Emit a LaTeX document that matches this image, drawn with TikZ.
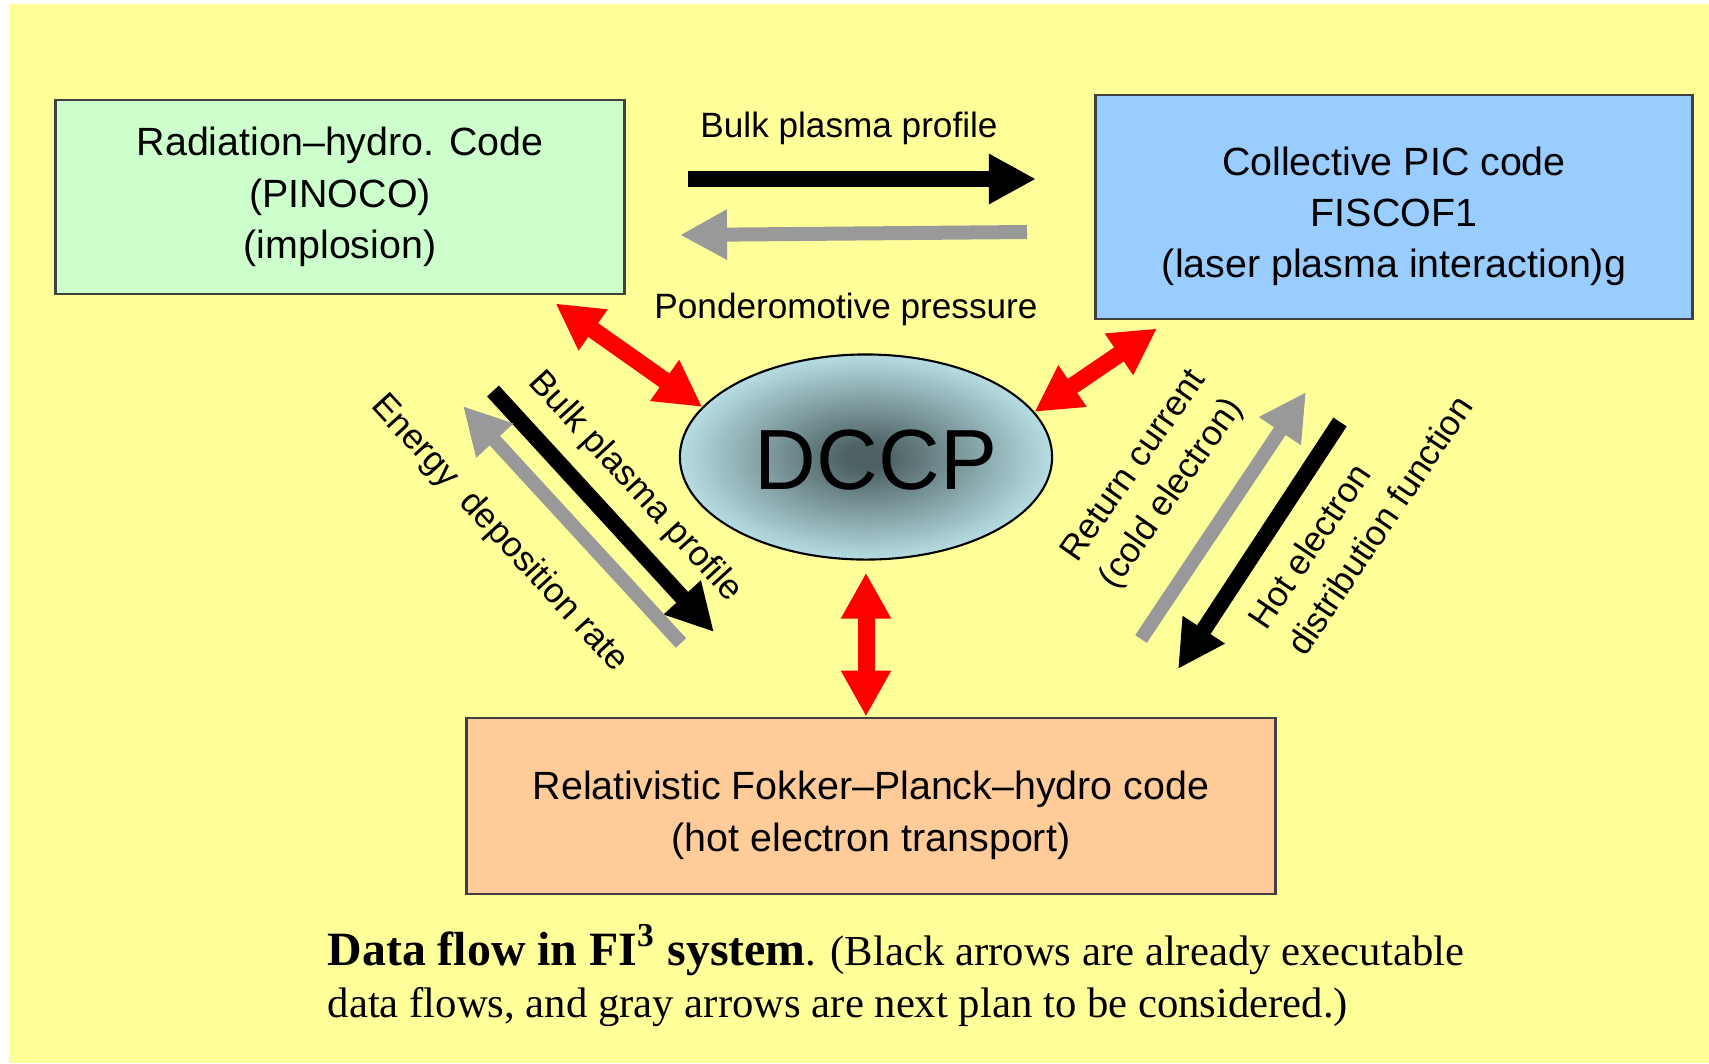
\documentclass[tikz,border=0pt]{standalone}
\usepackage{fontspec}
\setmainfont{Liberation Serif}
\setsansfont{Liberation Sans}
\usetikzlibrary{arrows.meta,shapes.geometric}

\definecolor{bgyellow}{HTML}{FFFF99}
\definecolor{hydrogreen}{HTML}{CCFFCC}
\definecolor{picblue}{HTML}{99CCFF}
\definecolor{fporange}{HTML}{FFCC99}
\definecolor{boxline}{HTML}{404040}
\definecolor{flowgray}{HTML}{999999}
\definecolor{dccpdark}{RGB}{78,98,100}
\definecolor{dccplight}{RGB}{182,221,227}
\pgfdeclareradialshading{dccpshade}{\pgfpoint{0bp}{0bp}}{color(0bp)=(dccpdark); color(3bp)=(dccpdark); color(25bp)=(dccplight); color(50bp)=(dccplight)}

\tikzset{
  codebox/.style={draw=boxline, line width=0.8pt, align=center, inner sep=0pt,
    font=\sffamily\fontsize{11.2}{14.6}\selectfont},
  flowlabel/.style={font=\sffamily\fontsize{10}{13.3}\selectfont, inner sep=0pt},
  blackflow/.style={line width=0.16cm, black, -{Triangle[length=0.47cm,width=0.47cm]}},
  grayflow/.style={line width=0.14cm, flowgray, -{Triangle[length=0.47cm,width=0.47cm]}},
  coupling/.style={line width=0.17cm, red, {Triangle[length=0.46cm,width=0.47cm]}-{Triangle[length=0.46cm,width=0.47cm]}},
}
\newcommand{\lowstrut}{\rule{0pt}{0.47cm}}

\begin{document}
\begin{tikzpicture}[x=0.01cm,y=-0.01cm]
% Background
\useasboundingbox (0,0) rectangle (1709,1063);
\fill[bgyellow] (9,4) rectangle (1709,1063);

% Code boxes
\node[codebox, fill=hydrogreen, minimum width=5.68cm, minimum height=1.94cm] (hydro) at (340,197) {Radiation--hydro. Code\\(PINOCO)\\(implosion)};
\node[codebox, fill=picblue, minimum width=5.97cm, minimum height=2.24cm] (pic) at (1394,207) {\lowstrut Collective PIC code\\FISCOF1\\(laser plasma interaction)g};
\node[codebox, fill=fporange, minimum width=8.08cm, minimum height=1.76cm] (fokker) at (871,806) {\lowstrut Relativistic Fokker--Planck--hydro code\\(hot electron transport)};

% DCCP
\node[ellipse, draw, line width=0.6pt, minimum width=3.72cm, minimum height=2.05cm, inner sep=0pt,
  shading=dccpshade] (dccp) at (866,457) {};
\node[font=\sffamily\fontsize{24.3}{28}\selectfont, inner sep=0pt] (dccptxt) at (876,460) {DCCP};

% Coupling arrows
\draw[coupling] ([xshift=-0.70cm,yshift=-0.08cm]hydro.south east) -- (dccp.163);
\draw[coupling] ([xshift=0.63cm,yshift=-0.08cm]pic.south west) -- (dccp.15);
\draw[coupling] ([yshift=-0.12cm]dccp.south) -- (dccp.south |- fokker.north);

% Data flow end points
\coordinate (bulkA) at (688,179);
\coordinate (bulkB) at (1036,179);
\coordinate (pondA) at (1027,232);
\coordinate (pondB) at (680,235);
\coordinate (profA) at (493,391);
\coordinate (profB) at (714,632);
\coordinate (edepA) at (681,643);
\coordinate (edepB) at (463,406);
\coordinate (retA) at (1141,639);
\coordinate (retB) at (1306,392);
\coordinate (hotA) at (1340,422);
\coordinate (hotB) at (1178,669);

% Data flows
\draw[blackflow] (bulkA) -- (bulkB);
\draw[grayflow] (pondA) -- (pondB);
\draw[blackflow] (profA) -- (profB);
\draw[grayflow] (edepA) -- (edepB);
\draw[grayflow] (retA) -- (retB);
\draw[blackflow] (hotA) -- (hotB);

% Labels
\node[flowlabel] (bulklbl) at (849,128) {Bulk plasma profile};
\node[flowlabel] (pondlbl) at (846,309) {Ponderomotive pressure};
\node[flowlabel, rotate=-47.5] (proflbl) at (635,487) {Bulk plasma profile};
\node[flowlabel, rotate=-47.5] (edeplbl) at (499,534) {Energy\ \ deposition rate};
\node[flowlabel, rotate=55, align=left] (retlbl) at (1154,480) {Return current\\(cold electron)};
\node[flowlabel, rotate=56, align=left] (hotlbl) at (1360,512) {Hot electron\\distribution function};

% Caption
\node[anchor=base west, inner sep=0pt, font=\fontsize{12.15}{14.8}\selectfont] (caption) at (327,965)
  {{\fontsize{13.6}{14.8}\selectfont\bfseries Data flow in FI\textsuperscript{3} system}. (Black arrows are already executable};
\node[anchor=base west, inner sep=0pt, font=\fontsize{12.15}{14.8}\selectfont] (captionb) at (327,1017)
  {data flows, and gray arrows are next plan to be considered.)};
\end{tikzpicture}
\end{document}
